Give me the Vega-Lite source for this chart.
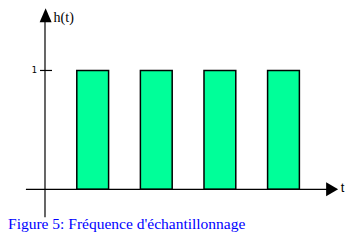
{
  "$schema": "https://vega.github.io/schema/vega-lite/v6.json",
  "width": 353,
  "height": 241,
  "padding": 0,
  "autosize": {"type": "none"},
  "background": "white",
  "config": {"view": {"stroke": null}},
  "datasets": {
    "bars": [
      {"start": 1, "end": 2, "h": 1},
      {"start": 3, "end": 4, "h": 1},
      {"start": 5, "end": 6, "h": 1},
      {"start": 7, "end": 8, "h": 1}
    ],
    "axes": [
      {"name": "t-axis", "t0": -0.6, "t1": 8.9, "h0": 0, "h1": 0},
      {"name": "h-axis", "t0": 0, "t1": 0, "h0": -0.236, "h1": 1.41},
      {"name": "tick", "t0": -0.157, "t1": 0.22, "h0": 1, "h1": 1}
    ]
  },
  "layer": [
    {
      "data": {"name": "bars"},
      "mark": {"type": "rect", "fill": "#00FF99", "stroke": "black", "strokeWidth": 1.5},
      "encoding": {
        "x": {"field": "start", "type": "quantitative", "scale": {"domain": [-1.415, 9.686], "nice": false, "zero": false}, "axis": null},
        "x2": {"field": "end"},
        "y": {"field": "h", "type": "quantitative", "scale": {"domain": [-0.435, 1.593], "nice": false, "zero": false}, "axis": null},
        "y2": {"datum": 0}
      }
    },
    {
      "data": {"name": "axes"},
      "mark": {"type": "rule", "color": "black", "strokeWidth": 1.2},
      "encoding": {
        "x": {"field": "t0", "type": "quantitative"},
        "x2": {"field": "t1"},
        "y": {"field": "h0", "type": "quantitative"},
        "y2": {"field": "h1"}
      }
    },
    {
      "data": {"values": [{"t": 9.03, "h": 0}]},
      "mark": {"type": "point", "shape": "M-0.857,-1L0.857,0L-0.857,1Z", "size": 196, "filled": true, "color": "black", "opacity": 1},
      "encoding": {
        "x": {"field": "t", "type": "quantitative"},
        "y": {"field": "h", "type": "quantitative"}
      }
    },
    {
      "data": {"values": [{"t": 0.02, "h": 1.465}]},
      "mark": {"type": "point", "shape": "M-0.857,1L0,-1L0.857,1Z", "size": 196, "filled": true, "color": "black", "opacity": 1},
      "encoding": {
        "x": {"field": "t", "type": "quantitative"},
        "y": {"field": "h", "type": "quantitative"}
      }
    },
    {
      "data": {"values": [
        {"label": "h(t)", "t": 0.27, "h": 1.44}
      ]},
      "mark": {"type": "text", "align": "left", "baseline": "middle", "font": "Liberation Serif", "fontSize": 14, "color": "black"},
      "encoding": {
        "x": {"field": "t", "type": "quantitative"},
        "y": {"field": "h", "type": "quantitative"},
        "text": {"field": "label"}
      }
    },
    {
      "data": {"values": [
        {"label": "1", "t": -0.25, "h": 1}
      ]},
      "mark": {"type": "text", "align": "right", "baseline": "middle", "font": "DejaVu Sans Mono", "fontSize": 9, "color": "black"},
      "encoding": {
        "x": {"field": "t", "type": "quantitative"},
        "y": {"field": "h", "type": "quantitative"},
        "text": {"field": "label"}
      }
    },
    {
      "data": {"values": [
        {"label": "t", "t": 9.3, "h": 0.01}
      ]},
      "mark": {"type": "text", "align": "left", "baseline": "middle", "font": "Liberation Sans", "fontSize": 13, "color": "black"},
      "encoding": {
        "x": {"field": "t", "type": "quantitative"},
        "y": {"field": "h", "type": "quantitative"},
        "text": {"field": "label"}
      }
    },
    {
      "data": {"values": [
        {"label": "Figure 5: Fréquence d'échantillonnage", "t": -1.163, "h": -0.334}
      ]},
      "mark": {"type": "text", "align": "left", "baseline": "alphabetic", "font": "Liberation Serif", "fontSize": 15.5, "color": "#0000FF"},
      "encoding": {
        "x": {"field": "t", "type": "quantitative"},
        "y": {"field": "h", "type": "quantitative"},
        "text": {"field": "label"}
      }
    }
  ]
}
